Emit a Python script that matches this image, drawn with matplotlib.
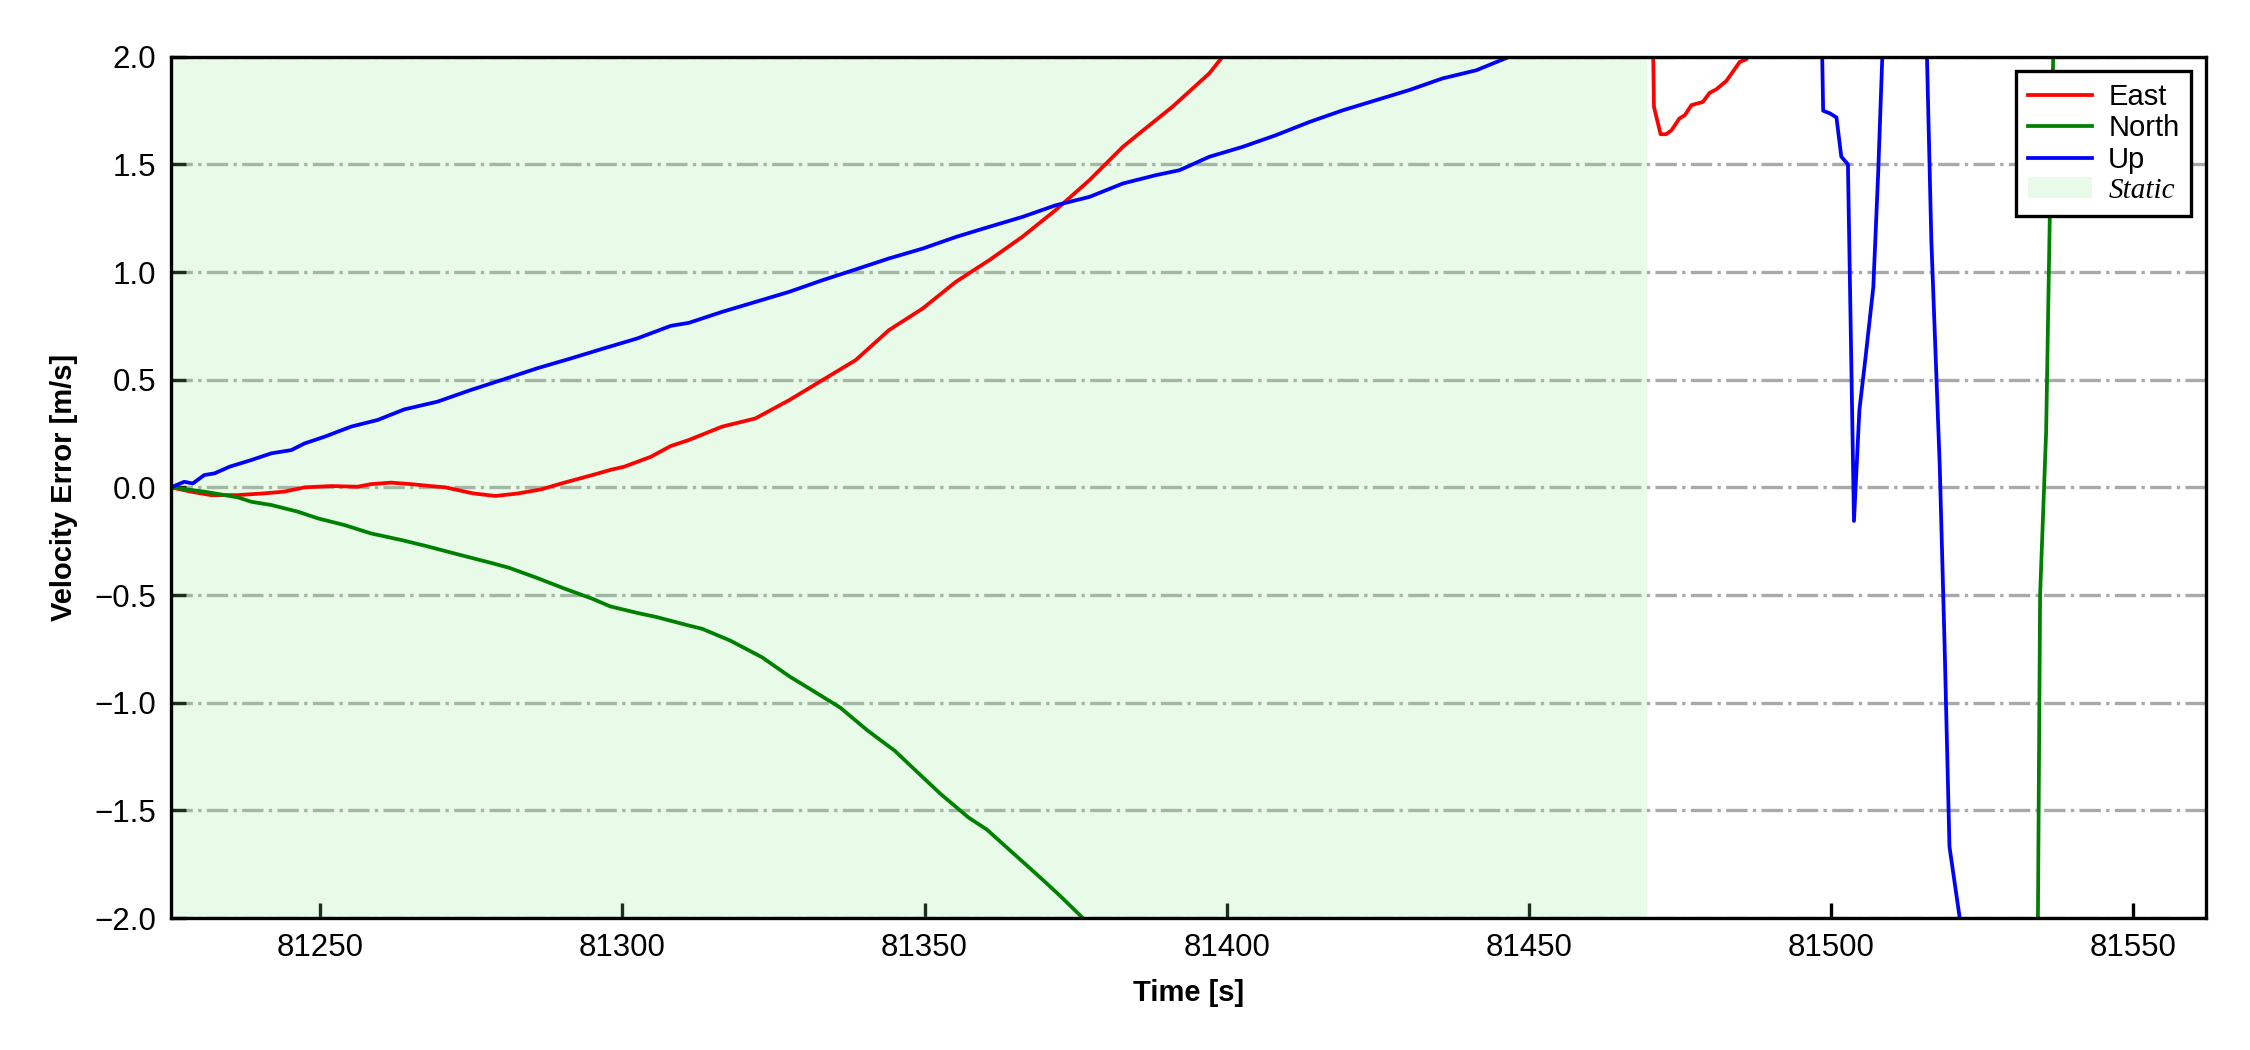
# velocity error plot (East / North / Up) with static period shaded
import matplotlib
matplotlib.use("Agg")
import matplotlib.pyplot as plt

plt.rcParams['font.family'] = ['Liberation Sans', 'DejaVu Sans']

# time axis [s] and errors [m/s]
t_east = [81225.3, 81228.6, 81231.9, 81236.3, 81240.7, 81244.0, 81247.4, 81251.8, 81256.2, 81258.4,
          81261.7, 81265.0, 81268.3, 81270.7, 81275.3, 81279.0, 81282.8, 81286.6, 81290.4, 81295.0,
          81298.0, 81300.3, 81304.7, 81308.0, 81311.0, 81316.5, 81322.0, 81327.6, 81333.1, 81338.6,
          81344.1, 81349.7, 81355.2, 81360.7, 81366.2, 81371.7, 81377.3, 81382.8, 81385.5, 81391.0,
          81397.1, 81399.9, 81420.0, 81450.0, 81469.8, 81470.7, 81471.8, 81472.7, 81473.6, 81474.9,
          81475.8, 81476.9, 81478.8, 81479.9, 81481.0, 81482.7, 81484.9, 81486.0, 81488.5, 81510.0,
          81540.0, 81562.0]
v_east = [0.0, -0.02, -0.036, -0.036, -0.028, -0.02, 0.0, 0.006, 0.003, 0.015,
          0.022, 0.015, 0.006, 0.0, -0.028, -0.04, -0.028, -0.009, 0.022, 0.057,
          0.081, 0.096, 0.142, 0.192, 0.22, 0.282, 0.32, 0.405, 0.498, 0.591,
          0.73, 0.831, 0.955, 1.055, 1.164, 1.288, 1.427, 1.581, 1.643, 1.767,
          1.922, 2.02, 2.6, 3.2, 3.5, 1.767, 1.64, 1.64, 1.658, 1.713,
          1.728, 1.775, 1.79, 1.832, 1.848, 1.888, 1.976, 1.988, 2.1, 2.6,
          3.0, 3.2]

t_north = [81225.3, 81230.8, 81236.3, 81238.6, 81241.9, 81246.3, 81249.6, 81254.0, 81258.4, 81263.5,
           81267.6, 81272.2, 81278.3, 81281.3, 81285.9, 81290.4, 81295.0, 81298.0, 81302.6, 81305.6,
           81310.9, 81313.2, 81317.8, 81323.1, 81327.7, 81331.5, 81336.0, 81340.6, 81345.1, 81348.9,
           81352.7, 81357.3, 81360.3, 81364.9, 81369.5, 81372.5, 81375.9, 81380.0, 81450.0, 81534.0,
           81534.6, 81535.6, 81536.2, 81537.0, 81545.0, 81562.0]
v_north = [0.0, -0.02, -0.046, -0.067, -0.082, -0.113, -0.144, -0.175, -0.214, -0.245,
           -0.273, -0.307, -0.351, -0.374, -0.421, -0.47, -0.517, -0.553, -0.584, -0.602,
           -0.641, -0.657, -0.711, -0.789, -0.879, -0.944, -1.022, -1.13, -1.224, -1.325,
           -1.425, -1.534, -1.589, -1.705, -1.821, -1.899, -1.992, -2.1, -3.0, -3.0,
           -0.5, 0.26, 1.25, 2.3, 3.0, 3.2]

t_up = [81225.3, 81227.5, 81228.9, 81230.8, 81232.5, 81235.0, 81238.6, 81241.9, 81245.2, 81247.4,
        81250.7, 81255.1, 81259.5, 81263.9, 81269.4, 81274.9, 81280.4, 81285.9, 81291.5, 81297.0,
        81302.5, 81308.0, 81311.0, 81316.5, 81322.0, 81327.6, 81333.1, 81338.6, 81344.1, 81349.7,
        81355.2, 81360.7, 81366.2, 81371.7, 81377.3, 81382.8, 81388.3, 81392.2, 81397.1, 81402.6,
        81408.1, 81413.7, 81419.2, 81424.7, 81430.2, 81435.7, 81441.3, 81446.8, 81460.0, 81480.0,
        81497.8, 81498.7, 81499.8, 81500.9, 81501.7, 81502.8, 81503.8, 81504.7, 81505.7, 81507.0,
        81507.8, 81509.5, 81515.2, 81516.6, 81518.0, 81518.8, 81519.6, 81521.3, 81523.0, 81562.0]
v_up = [0.0, 0.026, 0.018, 0.057, 0.065, 0.096, 0.127, 0.158, 0.173, 0.204,
        0.235, 0.282, 0.313, 0.362, 0.398, 0.452, 0.502, 0.553, 0.599, 0.646,
        0.692, 0.75, 0.764, 0.815, 0.861, 0.908, 0.962, 1.012, 1.063, 1.109,
        1.163, 1.21, 1.256, 1.31, 1.349, 1.411, 1.45, 1.473, 1.535, 1.581,
        1.635, 1.697, 1.751, 1.798, 1.845, 1.899, 1.937, 2.0, 2.4, 2.8,
        3.2, 1.749, 1.737, 1.718, 1.536, 1.5, -0.156, 0.36, 0.6, 0.93,
        1.456, 2.8, 2.8, 1.149, 0.093, -0.738, -1.668, -2.0, -2.6, -3.0]

static_start = 81225.3
static_end = 81469.5

fig = plt.figure(figsize=(7.5, 3.5), dpi=300)
ax = fig.add_subplot(111)
fig.subplots_adjust(left=0.076, right=0.9803, top=0.946, bottom=0.1257)

ax.plot(t_east, v_east, color='red', lw=0.9, label='East')
ax.plot(t_north, v_north, color='green', lw=0.9, label='North')
ax.plot(t_up, v_up, color='blue', lw=0.9, label='Up')
ax.axvspan(static_start, static_end, color='lightgreen', alpha=0.2, lw=0, label='Static')

ax.set_xlim(t_up[0], t_up[-1])
ax.set_ylim(-2, 2)
ax.set_yticks([-2.0, -1.5, -1.0, -0.5, 0.0, 0.5, 1.0, 1.5, 2.0])
ax.set_xticks([81250, 81300, 81350, 81400, 81450, 81500, 81550])
ax.grid(axis='y', linestyle='-.', color='darkgray', lw=0.8)
ax.set_axisbelow(True)

ax.tick_params(direction='in', length=3.5, width=0.8, labelsize=7.5)
for s in ax.spines.values():
    s.set_linewidth(0.8)

ax.set_xlabel('Time [s]', fontsize=7, fontweight='bold')
ax.set_ylabel('Velocity Error [m/s]', fontsize=7, fontweight='bold')

leg = ax.legend(loc='upper right', fontsize=7, fancybox=False, edgecolor='black',
                framealpha=1, labelspacing=0.12, handlelength=2.2, handletextpad=0.55)
leg.get_frame().set_linewidth(0.8)
leg.get_texts()[3].set_fontfamily('Liberation Serif')
leg.get_texts()[3].set_fontstyle('italic')

fig.savefig('out.png', dpi=300)
